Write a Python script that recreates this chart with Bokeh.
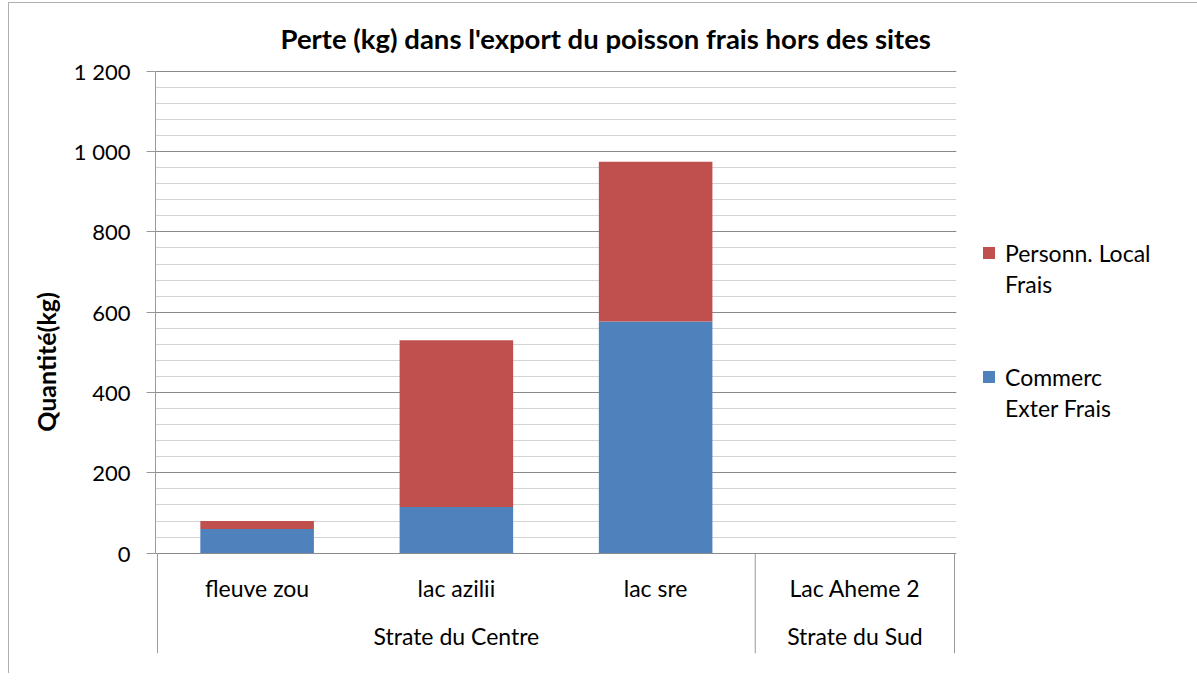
from bokeh.plotting import figure
from bokeh.models import (ColumnDataSource, FactorRange, Range1d, SingleIntervalTicker,
                          CustomJSTickFormatter, Legend, LegendItem)
from bokeh.core.properties import value
from bokeh.embed import file_html
from bokeh.resources import INLINE

# ---- data ----
strata = ["Strate du Centre", "Strate du Centre", "Strate du Centre", "Strate du Sud"]
sites = ["fleuve zou", "lac azilii", "lac sre", "Lac Aheme 2"]
commerc_exter_frais = [60, 115, 577, 0]
personn_local_frais = [20, 415, 398, 0]
legend_lines_personn = ["Personn. Local", "Frais"]
legend_lines_commerc = ["Commerc", "Exter Frais"]
title_text = "Perte (kg) dans l'export du poisson frais hors des sites"
y_label = "Quantité(kg)"

FONT = "Lato"
BLUE = "#4F81BD"
RED = "#C0504D"
AXIS = "#9a9a9a"
MAJOR = "#8a8a8a"
MINOR = "#d4d4d4"

factors = list(zip(strata, sites))
src = ColumnDataSource(dict(x=factors, commerc=commerc_exter_frais,
                            personn=personn_local_frais, site=sites))

x_range = FactorRange(*factors, range_padding=0.01, range_padding_units="absolute",
                      factor_padding=0, group_padding=0, subgroup_padding=0)
y_range = Range1d(-250, 1202)

p = figure(x_range=x_range, y_range=y_range, frame_width=801, frame_height=583,
           min_border_left=146, min_border_top=67, min_border_right=232, min_border_bottom=20,
           output_backend="svg", toolbar_location=None, background_fill_color="white",
           border_fill_color="white")
p.outline_line_color = None
p.styles = {"margin-left": "8px", "margin-top": "2px",
            "border-left": "1px solid #b0b0b0", "border-top": "1px solid #b0b0b0"}

# title
p.title.text = title_text
p.title.align = "left"
p.title.offset = 125
p.title.text_font = FONT
p.title.text_font_size = "27.5px"
p.title.text_font_style = "bold"
p.title.text_color = "black"
p.title.standoff = 31

# stacked bars
renderers = p.vbar_stack(["commerc", "personn"], x="x", width=0.57, color=[BLUE, RED],
                         line_color=None, source=src)

# y axis
ticker = SingleIntervalTicker(interval=200, num_minor_ticks=5)
p.yaxis.ticker = ticker
p.yaxis.bounds = (0, 1200)
p.yaxis.formatter = CustomJSTickFormatter(
    code="return String(tick).replace(/\\B(?=(\\d{3})+(?!\\d))/g, ' ');")
p.yaxis.major_tick_out = 9
p.yaxis.major_tick_in = 0
p.yaxis.minor_tick_out = 0
p.yaxis.minor_tick_in = 0
p.yaxis.axis_line_color = AXIS
p.yaxis.major_tick_line_color = AXIS
p.yaxis.major_label_standoff = 16
p.yaxis.major_label_text_font = FONT
p.yaxis.major_label_text_font_size = "22px"
p.yaxis.major_label_text_color = "black"
p.yaxis.axis_label = y_label
p.yaxis.axis_label_text_font = FONT
p.yaxis.axis_label_text_font_size = "25px"
p.yaxis.axis_label_text_font_style = "bold"
p.yaxis.axis_label_text_color = "black"
p.yaxis.axis_label_standoff = 10

# x axis drawn by hand (Excel-style multi-level labels)
p.xaxis.visible = False
p.xgrid.visible = False

p.ygrid.ticker = ticker
p.ygrid.bounds = (0, 1200)
p.ygrid.grid_line_color = MAJOR
p.ygrid.minor_grid_line_color = MINOR

# category labels
p.text(x="x", y=-87, text="site", source=src, text_font=value(FONT), text_font_size="23px",
       text_align="center", text_baseline="middle", text_color="black")
groups = list(dict.fromkeys(strata))
p.text(x=groups, y=[-206] * len(groups), text=groups, text_font=value(FONT),
       text_font_size="23px", text_align="center", text_baseline="middle", text_color="black")

# separator lines at group boundaries
sep_x = [factors[0] + (-0.5,)]
for i in range(1, len(factors)):
    if factors[i][0] != factors[i - 1][0]:
        sep_x.append(factors[i - 1] + (0.5,))
sep_x.append(factors[-1] + (0.5,))
p.segment(x0=sep_x, y0=[0] * len(sep_x), x1=sep_x, y1=[-250] * len(sep_x),
          line_color=AXIS, line_width=1)

# legend (wrapped labels, one row per text line, as in the original)
items = [
    LegendItem(label=legend_lines_personn[0], renderers=[renderers[1]]),
    LegendItem(label=legend_lines_personn[1], renderers=[]),
    LegendItem(label=" ", renderers=[]),
    LegendItem(label=" ", renderers=[]),
    LegendItem(label=legend_lines_commerc[0], renderers=[renderers[0]]),
    LegendItem(label=legend_lines_commerc[1], renderers=[]),
]
legend = Legend(items=items, location=(25, 230), padding=0, margin=0, spacing=0,
                glyph_width=15, glyph_height=15, label_standoff=9, label_height=31,
                label_text_font=FONT, label_text_font_size="23px",
                label_text_color="black", label_text_baseline="middle",
                border_line_color=None, background_fill_alpha=0)
p.add_layout(legend, "right")

open("out.html", "w").write(file_html(p, INLINE))
